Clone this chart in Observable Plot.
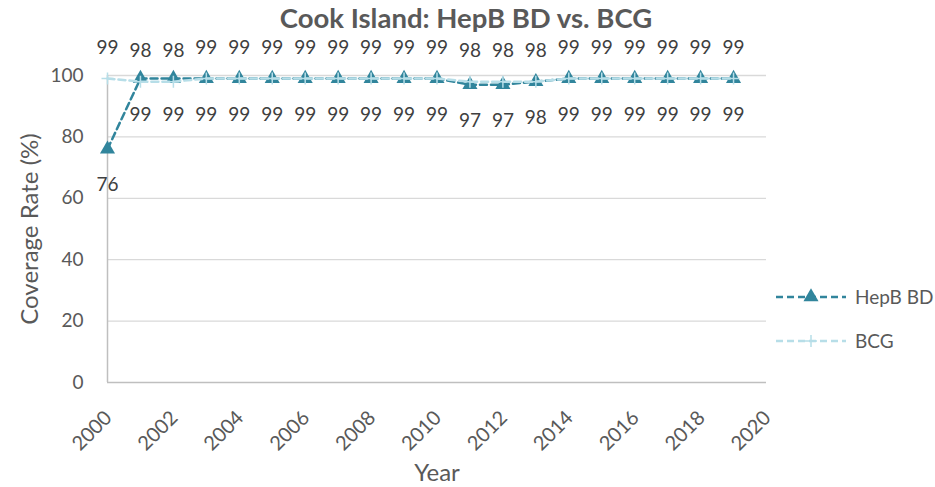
<!DOCTYPE html>
<html>
<head>
<meta charset="utf-8">
<script src="https://cdn.jsdelivr.net/npm/d3@7"></script>
<script src="https://cdn.jsdelivr.net/npm/@observablehq/plot@0.6"></script>
<style>
  html, body { margin: 0; padding: 0; background: #fff; }
  #chart svg { display: block; }
</style>
</head>
<body>
<div id="chart"></div>
<script>
const years = [2000,2001,2002,2003,2004,2005,2006,2007,2008,2009,2010,2011,2012,2013,2014,2015,2016,2017,2018,2019];
const hepbBD = [76,99,99,99,99,99,99,99,99,99,99,97,97,98,99,99,99,99,99,99];
const bcg    = [99,98,98,99,99,99,99,99,99,99,99,98,98,98,99,99,99,99,99,99];
const yTicks = [0,20,40,60,80,100];
const xTicks = [2000,2002,2004,2006,2008,2010,2012,2014,2016,2018,2020];
const seriesNames = ["HepB BD", "BCG"];

const colHep = "#31859C";
const colBcg = "#B7DEE8";
const FONT = "Lato, 'Open Sans', sans-serif";
const textCol = "#595959";

const hepData = years.map((y, i) => ({year: y, value: hepbBD[i]}));
const bcgData = years.map((y, i) => ({year: y, value: bcg[i]}));

const plusSymbol = {
  draw(ctx) {
    const r = 6;
    ctx.moveTo(-r, 0); ctx.lineTo(r, 0);
    ctx.moveTo(0, -r); ctx.lineTo(0, r);
  }
};

const W = 935, H = 487;
const chart = Plot.plot({
  width: W, height: H,
  marginLeft: 107, marginRight: 169, marginTop: 75, marginBottom: 105,
  style: {fontFamily: FONT, background: "#fff", overflow: "visible"},
  x: {domain: [2000, 2020], ticks: xTicks},
  y: {domain: [0, 100], ticks: yTicks},
  marks: [
    Plot.gridY(yTicks.filter(d => d > 0), {stroke: "#D9D9D9", strokeOpacity: 1, strokeWidth: 1.3}),
    Plot.ruleY([0], {stroke: "#BFBFBF", strokeWidth: 1.5}),
    Plot.ruleX([2000], {stroke: "#BFBFBF", strokeWidth: 1.5}),
    Plot.axisY({ticks: yTicks, tickSize: 0, tickPadding: 24, fontSize: 19, color: textCol, label: null}),
    Plot.axisX({ticks: xTicks, tickSize: 0, tickRotate: -45, tickPadding: 32, dx: 1, fontSize: 20, color: textCol, label: null, tickFormat: d => String(d)}),
    Plot.text(["Coverage Rate (%)"], {frameAnchor: "left", textAnchor: "middle", lineAnchor: "middle", dx: -77, rotate: -90, fontSize: 24, fill: textCol}),
    Plot.text(["Year"], {frameAnchor: "bottom", textAnchor: "middle", lineAnchor: "middle", dy: 91, fontSize: 24, fill: textCol}),
    Plot.text(["Cook Island: HepB BD vs. BCG"], {frameAnchor: "top", textAnchor: "middle", lineAnchor: "middle", dx: 29, dy: -56, fontSize: 27.5, fontWeight: "bold", fill: textCol}),
    Plot.line(hepData, {x: "year", y: "value", stroke: colHep, strokeWidth: 2.5, strokeDasharray: "7,4"}),
    Plot.dot(hepData, {x: "year", y: "value", symbol: "triangle", r: 5.6, fill: colHep, stroke: "none"}),
    Plot.line(bcgData, {x: "year", y: "value", stroke: colBcg, strokeWidth: 2.5, strokeDasharray: "7,4"}),
    Plot.dot(bcgData, {x: "year", y: "value", symbol: plusSymbol, stroke: colBcg, strokeWidth: 1.5, fill: "none"}),
    Plot.text(bcgData, {x: "year", y: "value", text: d => String(d.value), dy: -31, fontSize: 19, fill: "#404040"}),
    Plot.text(hepData, {x: "year", y: "value", text: d => String(d.value), dy: 36, fontSize: 19, fill: "#404040"})
  ]
});
document.getElementById("chart").appendChild(chart);

// Legend
const svg = d3.select(chart);
const lg = svg.append("g").attr("font-family", FONT).attr("text-anchor", "start");
const items = [
  {name: seriesNames[0], color: colHep, y: 297, sym: "tri"},
  {name: seriesNames[1], color: colBcg, y: 341, sym: "plus"}
];
items.forEach(it => {
  lg.append("line").attr("x1", 776).attr("x2", 846).attr("y1", it.y).attr("y2", it.y)
    .attr("stroke", it.color).attr("stroke-width", 2.5).attr("stroke-dasharray", "7,4");
  if (it.sym === "tri") {
    lg.append("path").attr("d", d3.symbol(d3.symbolTriangle, 5.6*5.6*Math.PI)()).attr("transform", `translate(811,${it.y})`).attr("fill", it.color);
  } else {
    lg.append("path").attr("d", "M-6,0L6,0M0,-6L0,6").attr("transform", `translate(811,${it.y})`).attr("stroke", it.color).attr("stroke-width", 1.5);
  }
  lg.append("text").attr("x", 855).attr("y", it.y).attr("dy", "0.35em").attr("font-size", 19).attr("fill", textCol).text(it.name);
});
</script>
</body>
</html>
